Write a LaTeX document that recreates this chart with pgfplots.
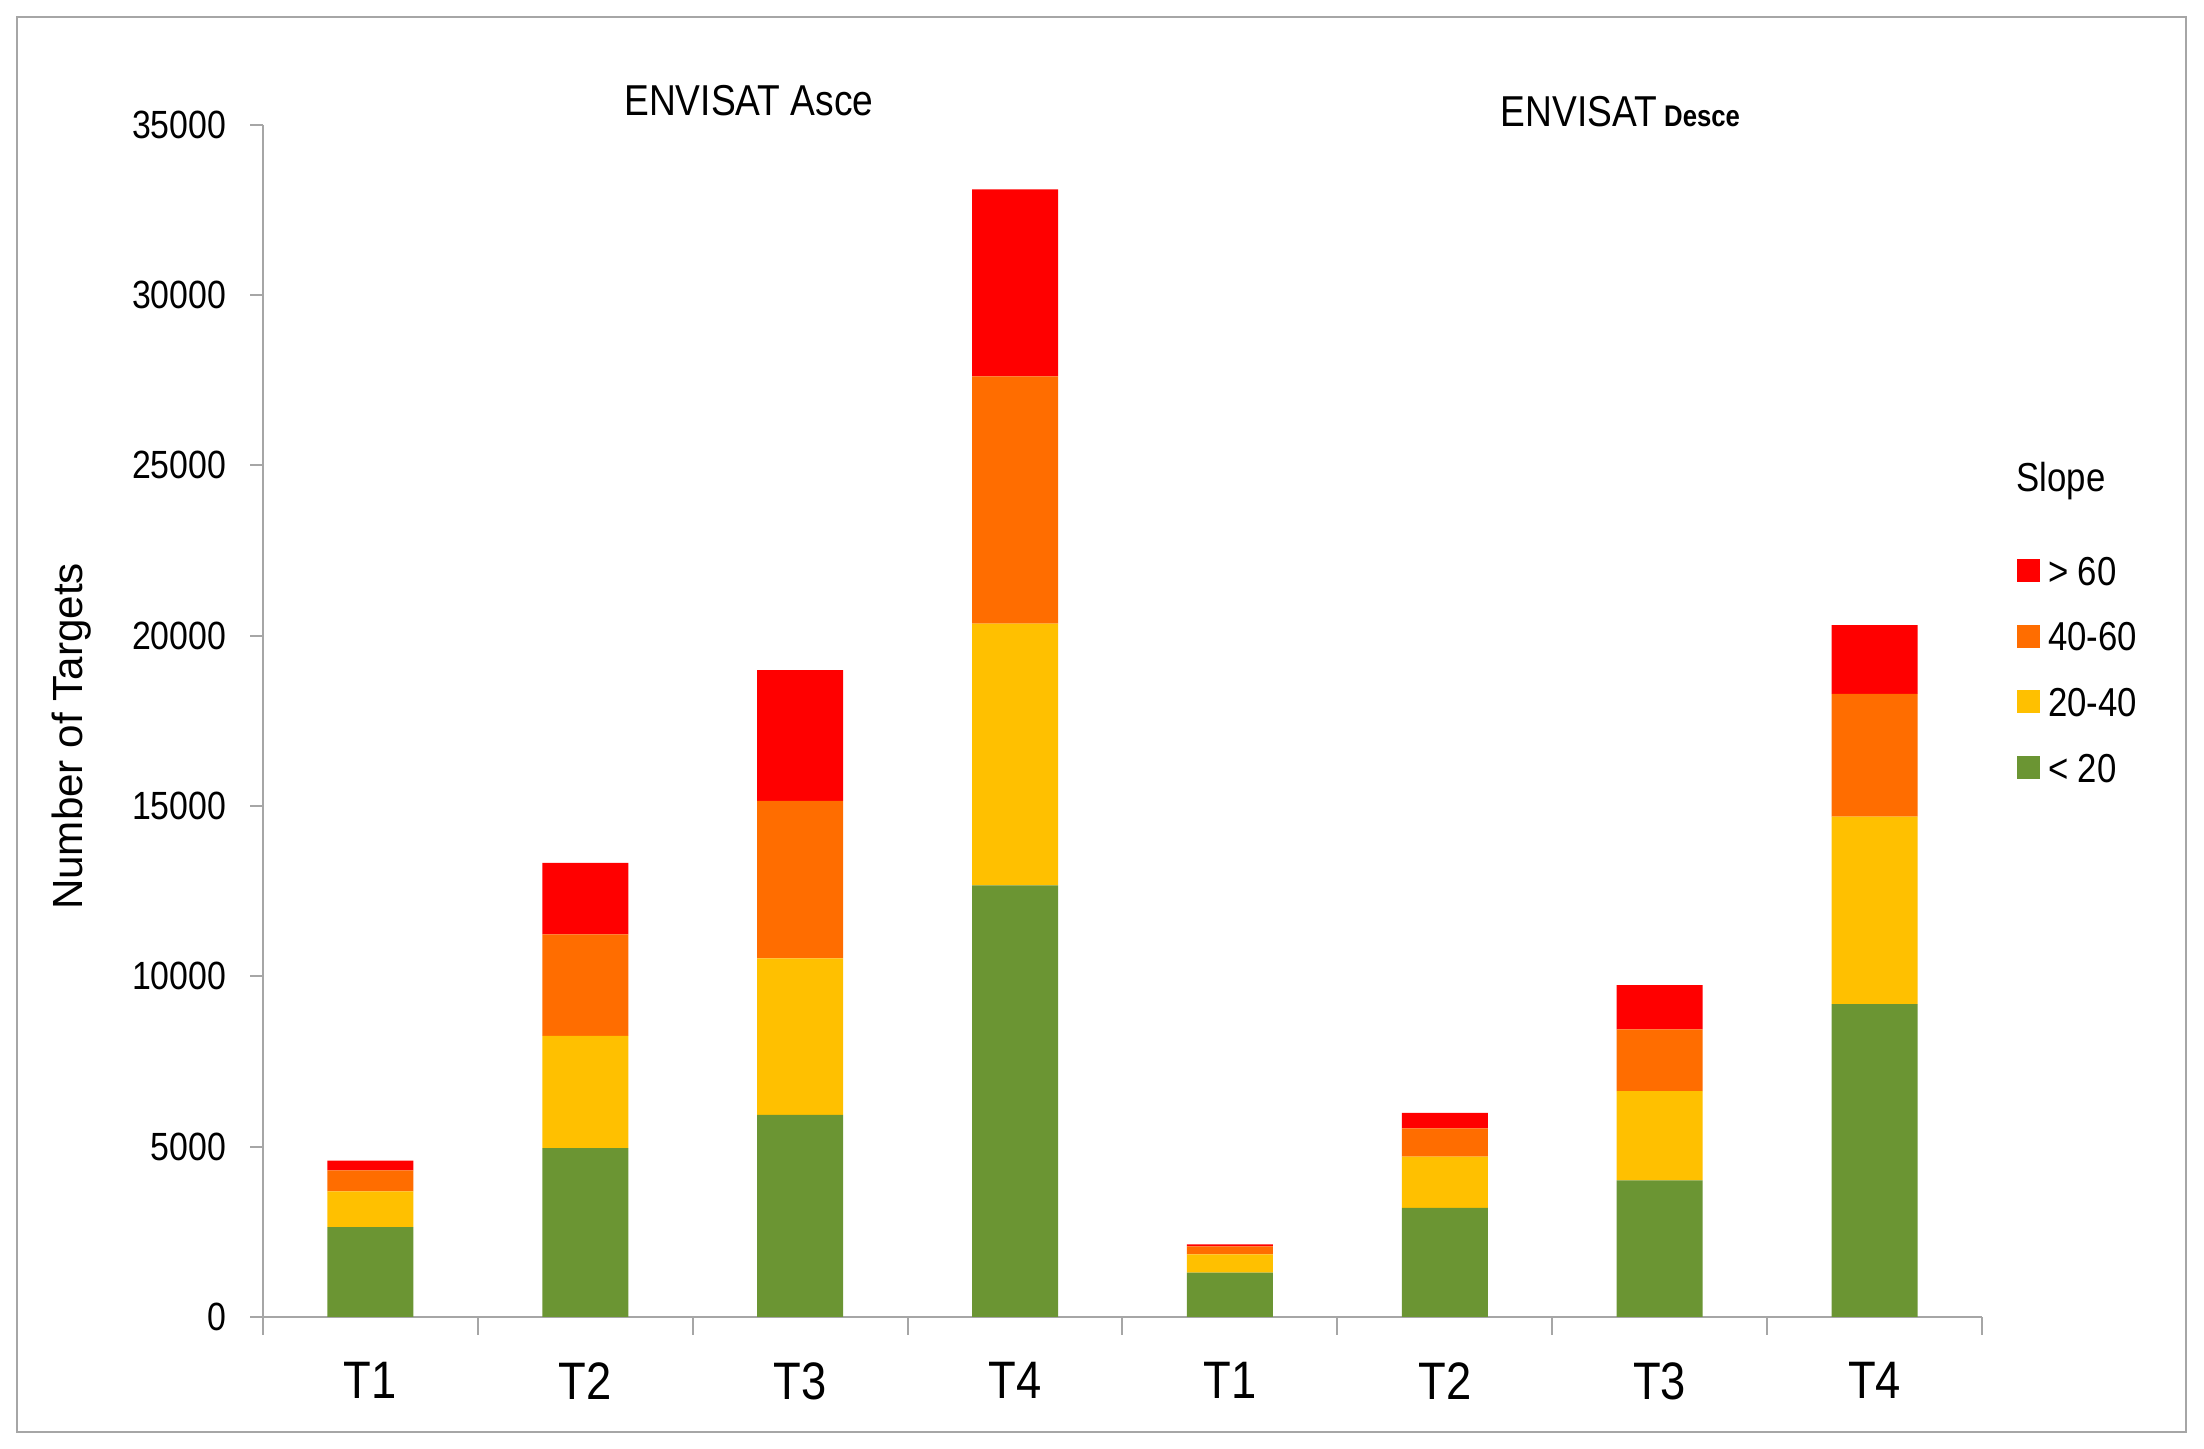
\documentclass[border=0pt]{standalone}
\usepackage{pgfplots}
\pgfplotsset{compat=1.18}
\usepackage{pgfplotstable}
\usepackage{fontspec}
\setmainfont{Liberation Sans}[FakeStretch=0.86]
\newfontfamily\ylabfont{Liberation Sans}

\definecolor{cgreen}{HTML}{6B9533}
\definecolor{cyellow}{HTML}{FFC000}
\definecolor{corange}{HTML}{FF6D00}
\definecolor{cred}{HTML}{FF0000}
\definecolor{axgray}{HTML}{A6A6A6}

% columns: <20, 20-40, 40-60, >60 ; x 0-3 Asce T1-T4, 4-7 Desce T1-T4
\pgfplotstableread{
x   g      y     o     r
0   2640   1050  610   290
1   4960   3290  2980  2100
2   5930   4600  4620  3840
3   12670  7680  7260  5490
4   1300   536   240   54
5   3200   1510  830   450
6   4010   2620  1810  1300
7   9180   5510  3600  2020
}\slopedata

\begin{document}
\begin{tikzpicture}
\useasboundingbox (0,0) rectangle (220.4mm,144.9mm);
\draw[line width=0.2mm, axgray] (1.7mm,1.7mm) rectangle (218.6mm,143.2mm);
\begin{axis}[
    at={(26.3mm,13.2mm)}, anchor=south west,
    scale only axis,
    width=171.9mm, height=119.24mm,
    ybar stacked, bar width=0.4,
    xmin=-0.5, xmax=7.5,
    ymin=0, ymax=35000,
    ytick distance=5000,
    scaled y ticks=false,
    /pgf/number format/1000 sep={},
    /pgf/number format/assume math mode=true,
    xtick={0,...,7},
    xticklabels={T1,T2,T3,T4,T1,T2,T3,T4},
    minor xtick={-0.5,0.5,...,7.5},
    axis lines*=left,
    axis line style={axgray, line width=0.2mm},
    tick style={axgray, line width=0.2mm},
    major x tick style={draw=none},
    tick align=outside,
    major tick length=1.3mm,
    minor tick length=1.8mm,
    yticklabel style={font=\fontsize{11.2}{12}\selectfont, inner sep=0pt, anchor=east},
    yticklabel shift=2.3mm,
    xticklabel style={font=\fontsize{15}{16}\selectfont, inner sep=0pt, anchor=north},
    xticklabel shift=3.2mm,
    ylabel={Number of Targets},
    every axis y label/.style={at={(axis description cs:-0.1114,0.4868)}, rotate=90, anchor=center, font=\ylabfont\fontsize{12}{13}\selectfont},
    clip=false,
    reverse legend,
    legend style={at={(axis description cs:1.0204,0.638)}, anchor=north west,
        draw=none, fill=none, inner sep=0pt, outer sep=0pt,
        row sep=3.66mm, column sep=0.8mm,
        font=\fontsize{11.5}{12}\selectfont,
        nodes={inner sep=0pt, text height=2.9mm, text depth=0pt, anchor=base west}},
]
\addplot[fill=cgreen, draw=none, legend image code/.code={\fill[cgreen] (0mm,0.3mm) rectangle (2.3mm,2.6mm);}] table[x=x, y=g] {\slopedata};
\addplot[fill=cyellow, draw=none, legend image code/.code={\fill[cyellow] (0mm,0.3mm) rectangle (2.3mm,2.6mm);}] table[x=x, y=y] {\slopedata};
\addplot[fill=corange, draw=none, legend image code/.code={\fill[corange] (0mm,0.3mm) rectangle (2.3mm,2.6mm);}] table[x=x, y=o] {\slopedata};
\addplot[fill=cred, draw=none, legend image code/.code={\fill[cred] (0mm,0.3mm) rectangle (2.3mm,2.6mm);}] table[x=x, y=r] {\slopedata};
\legend{< 20, 20-40, 40-60, > 60}
\node[anchor=base, font=\fontsize{12.3}{13}\selectfont, inner sep=0pt] at (axis description cs:0.2827,1.008) {ENVISAT Asce};
\node[anchor=base west, font=\fontsize{12.3}{13}\selectfont, inner sep=0pt] at (axis description cs:0.7196,0.998) {ENVISAT\,{\bfseries\fontsize{8.5}{9}\selectfont Desce}};
\node[anchor=base west, font=\fontsize{11.5}{12}\selectfont, inner sep=0pt] at (axis description cs:1.0198,0.6919) {Slope};
\end{axis}
\end{tikzpicture}
\end{document}
